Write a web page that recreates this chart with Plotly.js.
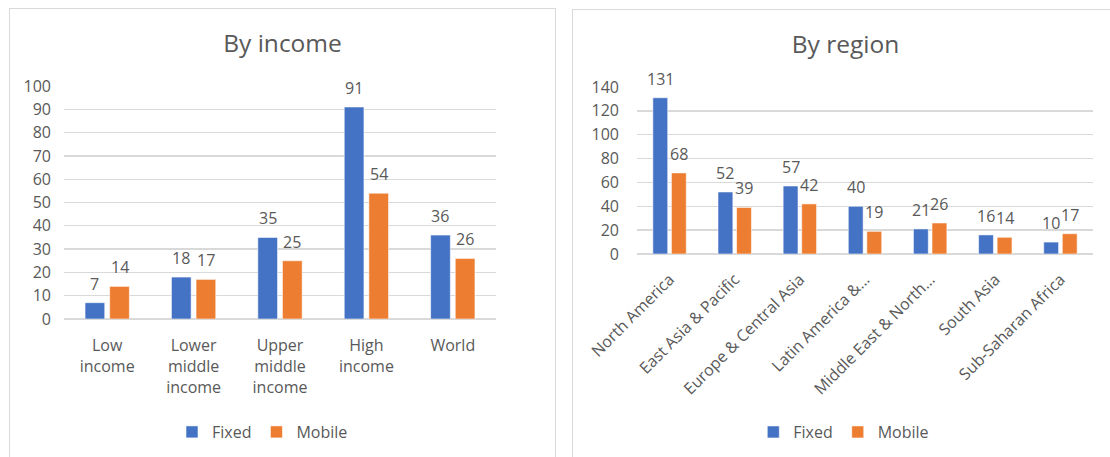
<!DOCTYPE html>
<html>
<head>
<meta charset="utf-8">
<script src="https://cdn.plot.ly/plotly-3.0.1.min.js"></script>
<style>
  html, body { margin: 0; padding: 0; width: 1110px; height: 457px; overflow: hidden; background: #fff; }
  .panel { position: absolute; width: 545px; height: 470px; border: 1px solid #d9d9d9; background: #fff; }
  #incomePanel { left: 9px; top: 8px; }
  #regionPanel { left: 572px; top: 9px; }
</style>
</head>
<body>
<div class="panel" id="incomePanel"><div id="incomeChart"></div></div>
<div class="panel" id="regionPanel"><div id="regionChart"></div></div>
<script>
// Broadband subscriptions per 100 people, fixed vs mobile
const incomeCategories = ['Low<br>income', 'Lower<br>middle<br>income', 'Upper<br>middle<br>income', 'High<br>income', 'World'];
const incomeFixed = [7, 18, 35, 91, 36];
const incomeMobile = [14, 17, 25, 54, 26];

const regionCategories = ['North America', 'East Asia & Pacific', 'Europe & Central Asia', 'Latin America &…', 'Middle East & North…', 'South Asia', 'Sub-Saharan Africa'];
const regionFixed = [131, 52, 57, 40, 21, 16, 10];
const regionMobile = [68, 39, 42, 19, 26, 14, 17];

const seriesNames = ['Fixed', 'Mobile'];
const seriesColors = ['#4472C4', '#ED7D31'];

const FONT = '"Open Sans", "Noto Sans", sans-serif';
const TEXT = '#595959';
const GRID = '#d9d9d9';
const BARGAP = 0.43;
const BARGROUPGAP = 0.2;

function barTraces(cats, fixed, mobile) {
  return [fixed, mobile].map((vals, i) => ({
    type: 'bar',
    name: seriesNames[i],
    x: cats,
    y: vals,
    marker: { color: seriesColors[i], line: { color: 'rgba(255,255,255,0.55)', width: 1 } },
    hoverinfo: 'skip'
  }));
}

// Value labels sit above each bar, centred on it
function valueLabels(fixed, mobile) {
  const shift = (1 - BARGAP) / 4;
  const out = [];
  [fixed, mobile].forEach((vals, s) => {
    vals.forEach((v, i) => {
      out.push({
        x: i + (s === 0 ? -shift : shift), y: v,
        xref: 'x', yref: 'y',
        text: String(v), showarrow: false,
        yanchor: 'middle', yshift: 19,
        font: { family: FONT, size: 16, color: TEXT }
      });
    });
  });
  return out;
}

function baseLayout(title, yMax, dtick, margin, legendX, legendY, standoffY) {
  return {
    width: 545, height: 470,
    margin: margin,
    paper_bgcolor: '#fff', plot_bgcolor: '#fff',
    font: { family: FONT, size: 16, color: TEXT },
    title: { text: title, font: { family: FONT, size: 24.5, color: TEXT }, x: 0.5, xanchor: 'center', xref: 'container', y: 0.927, yref: 'container', yanchor: 'middle' },
    barmode: 'group', bargap: BARGAP, bargroupgap: BARGROUPGAP,
    showlegend: true,
    legend: { orientation: 'h', x: legendX, xanchor: 'left', y: legendY, yanchor: 'middle', font: { family: FONT, size: 16, color: TEXT }, bgcolor: 'rgba(0,0,0,0)' },
    xaxis: { type: 'category', showgrid: false, showline: false, zeroline: false, ticks: '', tickfont: { family: FONT, size: 16, color: TEXT }, fixedrange: true },
    yaxis: { range: [0, yMax], dtick: dtick, showgrid: true, gridcolor: GRID, gridwidth: 1.3, zeroline: true, zerolinecolor: GRID, zerolinewidth: 1.3, showline: false, ticks: '', ticklabelstandoff: standoffY, tickfont: { family: FONT, size: 16, color: TEXT }, fixedrange: true }
  };
}

const incomeLayout = baseLayout('By income', 100, 10, { l: 54, r: 59, t: 77, b: 160, pad: 0 }, 0.25, -0.485, 12);
incomeLayout.xaxis.tickangle = 0;
incomeLayout.xaxis.ticklabelstandoff = 15;
incomeLayout.annotations = valueLabels(incomeFixed, incomeMobile);

const regionLayout = baseLayout('By region', 140, 20, { l: 64, r: 25, t: 77, b: 226, pad: 0 }, 0.255, -1.066, 17);
regionLayout.xaxis.tickangle = -45;
regionLayout.xaxis.ticklabelstandoff = 12;
regionLayout.annotations = valueLabels(regionFixed, regionMobile);

const cfg = { displayModeBar: false, staticPlot: true };
Plotly.newPlot('incomeChart', barTraces(incomeCategories, incomeFixed, incomeMobile), incomeLayout, cfg);
Plotly.newPlot('regionChart', barTraces(regionCategories, regionFixed, regionMobile), regionLayout, cfg);
</script>
</body>
</html>
